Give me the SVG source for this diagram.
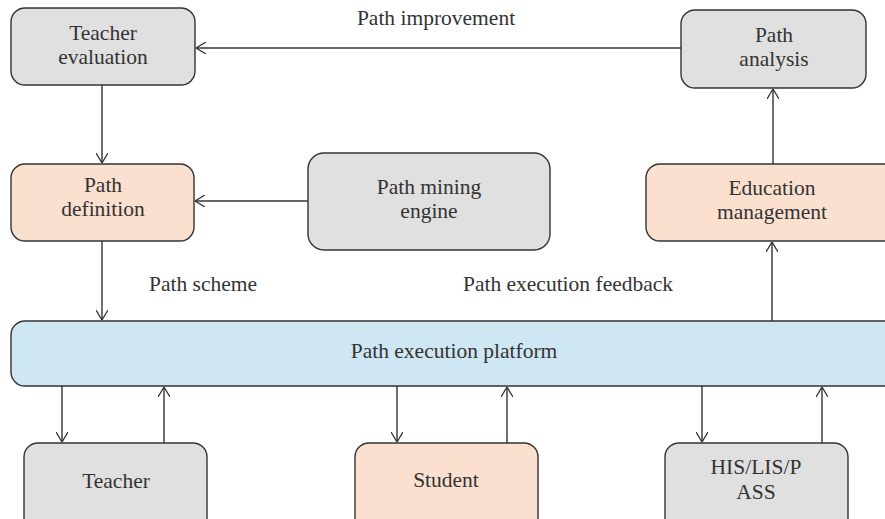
<svg xmlns="http://www.w3.org/2000/svg" width="885" height="519" viewBox="0 0 885 519">
  <style>
    .box { stroke: #333333; stroke-width: 1.4; }
    .grey { fill: #e0e0e0; }
    .peach { fill: #fbe0cf; }
    .blue { fill: #cfe6f3; }
    .lbl { font-family: "Liberation Serif", "Times New Roman", serif; font-size: 21.5px; fill: #333333; text-anchor: middle; }
    .edge { stroke: #333333; stroke-width: 1.4; fill: none; marker-end: url(#arr); }
  </style>
  <defs>
    <marker id="arr" viewBox="0 0 10 12" refX="10" refY="6" markerWidth="10" markerHeight="12" markerUnits="userSpaceOnUse" orient="auto">
      <path d="M0,0 L10,6 L0,12" fill="none" stroke="#333333" stroke-width="1.3"/>
    </marker>
  </defs>
  <rect width="885" height="519" fill="#ffffff"/>

  <g id="connectors">
    <line class="edge" x1="681" y1="48" x2="196" y2="48"/>
    <line class="edge" x1="102" y1="85" x2="102" y2="163"/>
    <line class="edge" x1="308" y1="201" x2="195" y2="201"/>
    <line class="edge" x1="773" y1="164" x2="773" y2="89"/>
    <line class="edge" x1="102" y1="241" x2="102" y2="320"/>
    <line class="edge" x1="772" y1="321" x2="772" y2="242"/>
    <line class="edge" x1="62" y1="386" x2="62" y2="442"/>
    <line class="edge" x1="164" y1="443" x2="164" y2="387"/>
    <line class="edge" x1="397" y1="386" x2="397" y2="442"/>
    <line class="edge" x1="507" y1="443" x2="507" y2="387"/>
    <line class="edge" x1="702" y1="386" x2="702" y2="442"/>
    <line class="edge" x1="822" y1="443" x2="822" y2="387"/>
    <text class="lbl" x="436" y="25">Path improvement</text>
    <text class="lbl" x="203" y="291">Path scheme</text>
    <text class="lbl" x="568" y="291">Path execution feedback</text>
  </g>

  <g id="teacher-evaluation">
    <rect class="box grey" x="11" y="8" width="184" height="77" rx="14"/>
    <text class="lbl" x="103" y="40">Teacher</text>
    <text class="lbl" x="103" y="64">evaluation</text>
  </g>
  <g id="path-analysis">
    <rect class="box grey" x="681" y="10" width="185" height="78" rx="14"/>
    <text class="lbl" x="774" y="42">Path</text>
    <text class="lbl" x="774" y="66">analysis</text>
  </g>
  <g id="path-definition">
    <rect class="box peach" x="11" y="164" width="183" height="77" rx="14"/>
    <text class="lbl" x="103" y="192">Path</text>
    <text class="lbl" x="103" y="216">definition</text>
  </g>
  <g id="path-mining-engine">
    <rect class="box grey" x="308" y="153" width="242" height="97" rx="16"/>
    <text class="lbl" x="429" y="194">Path mining</text>
    <text class="lbl" x="429" y="218">engine</text>
  </g>
  <g id="education-management">
    <rect class="box peach" x="646" y="164" width="252" height="77" rx="14"/>
    <text class="lbl" x="772" y="195">Education</text>
    <text class="lbl" x="772" y="219">management</text>
  </g>
  <g id="path-execution-platform">
    <rect class="box blue" x="11" y="321" width="887" height="65" rx="14"/>
    <text class="lbl" x="454" y="358">Path execution platform</text>
  </g>
  <g id="teacher">
    <rect class="box grey" x="24" y="443" width="183" height="95" rx="14"/>
    <text class="lbl" x="116" y="488">Teacher</text>
  </g>
  <g id="student">
    <rect class="box peach" x="355" y="443" width="183" height="95" rx="14"/>
    <text class="lbl" x="446" y="487">Student</text>
  </g>
  <g id="his-lis-pass">
    <rect class="box grey" x="665" y="443" width="183" height="95" rx="14"/>
    <text class="lbl" x="756" y="474">HIS/LIS/P</text>
    <text class="lbl" x="756" y="499">ASS</text>
  </g>
</svg>
